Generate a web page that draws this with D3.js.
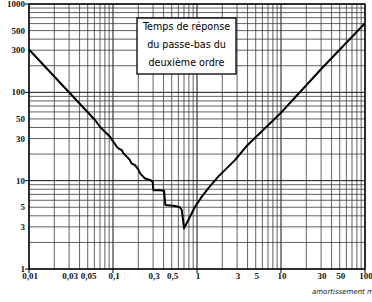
<!DOCTYPE html>
<html lang="fr">
<head>
<meta charset="UTF-8">
<title>Temps de réponse</title>
<style>
  body { margin: 0; background: #fff; }
  .grid line { stroke: #3a3a3a; stroke-width: 0.8; }
  .grid line.major { stroke: #111; stroke-width: 1; }
  .tick-label { font-family: "Liberation Serif", serif; font-weight: bold; font-size: 9px; fill: #111; }
  .curve { fill: none; stroke: #000; stroke-width: 2; stroke-linejoin: round; }
  .titre { font-family: "DejaVu Sans", sans-serif; font-size: 9.6px; fill: #000; }
</style>
</head>
<body>
<svg></svg>
<script src="https://d3js.org/d3.v7.min.js"></script>
<script>
// amortissement m / temps de réponse réduit
var mValues = [0.01, 0.061, 0.070, 0.080, 0.092, 0.101, 0.111, 0.116, 0.127, 0.133, 0.146,
               0.159, 0.166, 0.183, 0.200, 0.210, 0.240, 0.276, 0.297, 0.302, 0.363, 0.405,
               0.420, 0.547, 0.627, 0.658, 0.686, 0.700, 0.788, 0.947, 1.14, 1.36, 1.79,
               2.83, 3.87, 9.8, 31.9, 100];
var tValues = [305, 48.6, 40.8, 35.8, 31.5, 27.6, 24.2, 23.2, 22.2, 20.4, 18.7,
               17.1, 15.7, 15.0, 13.4, 12.1, 10.6, 10.2, 9.7, 7.8, 7.8, 7.7,
               5.3, 5.17, 5.0, 4.66, 3.43, 2.89, 3.59, 5.07, 6.59, 8.2, 11.1,
               17.1, 24.5, 57.6, 195, 605];

var xTickLabels = [0.01, 0.03, 0.05, 0.1, 0.3, 0.5, 1, 3, 5, 10, 30, 50, 100];
var yTickLabels = [1, 3, 5, 10, 30, 50, 100, 300, 500, 1000];
var xMajor = [0.01, 0.1, 1, 10, 100];
var yMajor = [1, 10, 100, 1000];
var titleLines = ["Temps de réponse", "du passe-bas du", "deuxième ordre"];

var width = 372, height = 302;
var plotLeft = 29, plotRight = 365, plotTop = 4, plotBottom = 269;

var svg = d3.select("svg").attr("width", width).attr("height", height);

var x = d3.scaleLog().domain([0.01, 100]).range([plotLeft, plotRight]);
var y = d3.scaleLog().domain([1, 1000]).range([plotBottom, plotTop]);

var frFormat = function(d) { return String(+d.toPrecision(3)).replace(".", ","); };
var isMajor = function(list) {
    return function(d) { return list.some(v => Math.abs(v - d) / v < 1e-6) ? "major" : ""; };
};

// grille
var grid = svg.append("g").attr("class", "grid");
grid.selectAll(".vx")
    .data(x.ticks())
    .enter().append("line")
    .attr("class", isMajor(xMajor))
    .attr("x1", d => x(d)).attr("x2", d => x(d))
    .attr("y1", plotTop).attr("y2", plotBottom);
grid.selectAll(".hy")
    .data(y.ticks())
    .enter().append("line")
    .attr("class", isMajor(yMajor))
    .attr("x1", plotLeft).attr("x2", plotRight)
    .attr("y1", d => y(d)).attr("y2", d => y(d));

// cadre
svg.append("rect")
    .attr("x", plotLeft).attr("y", plotTop)
    .attr("width", plotRight - plotLeft).attr("height", plotBottom - plotTop)
    .attr("fill", "none").attr("stroke", "#000").attr("stroke-width", 1.3);

// petits traits
svg.selectAll(".tx")
    .data(xMajor)
    .enter().append("line")
    .attr("x1", d => x(d)).attr("x2", d => x(d))
    .attr("y1", plotBottom).attr("y2", plotBottom + 4)
    .attr("stroke", "#000").attr("stroke-width", 1);
svg.selectAll(".ty")
    .data(yMajor)
    .enter().append("line")
    .attr("x1", plotLeft - 4).attr("x2", plotLeft)
    .attr("y1", d => y(d)).attr("y2", d => y(d))
    .attr("stroke", "#000").attr("stroke-width", 1);

// étiquettes
svg.selectAll(".lx")
    .data(xTickLabels)
    .enter().append("text")
    .attr("class", "tick-label")
    .attr("x", d => x(d) + 1)
    .attr("y", 279)
    .attr("text-anchor", "middle")
    .text(frFormat);
svg.selectAll(".ly")
    .data(yTickLabels)
    .enter().append("text")
    .attr("class", "tick-label")
    .attr("x", 25)
    .attr("y", d => y(d) + 3)
    .attr("text-anchor", "end")
    .text(frFormat);

svg.append("text")
    .attr("x", 312).attr("y", 294)
    .attr("font-family", "DejaVu Sans, sans-serif")
    .attr("font-style", "italic")
    .attr("font-size", 7)
    .attr("fill", "#111")
    .text("amortissement m");

// courbe
var line = d3.line()
    .x(d => x(d[0]))
    .y(d => y(d[1]));
svg.append("path")
    .datum(d3.zip(mValues, tValues))
    .attr("class", "curve")
    .attr("d", line);

// cartouche
svg.append("rect")
    .attr("x", 137).attr("y", 18)
    .attr("width", 99).attr("height", 56)
    .attr("fill", "#fff").attr("stroke", "#000").attr("stroke-width", 1.3);
svg.selectAll(".titre")
    .data(titleLines)
    .enter().append("text")
    .attr("class", "titre")
    .attr("x", 186.5)
    .attr("y", (d, i) => 30 + i * 18)
    .attr("text-anchor", "middle")
    .text(d => d);
</script>
</body>
</html>
